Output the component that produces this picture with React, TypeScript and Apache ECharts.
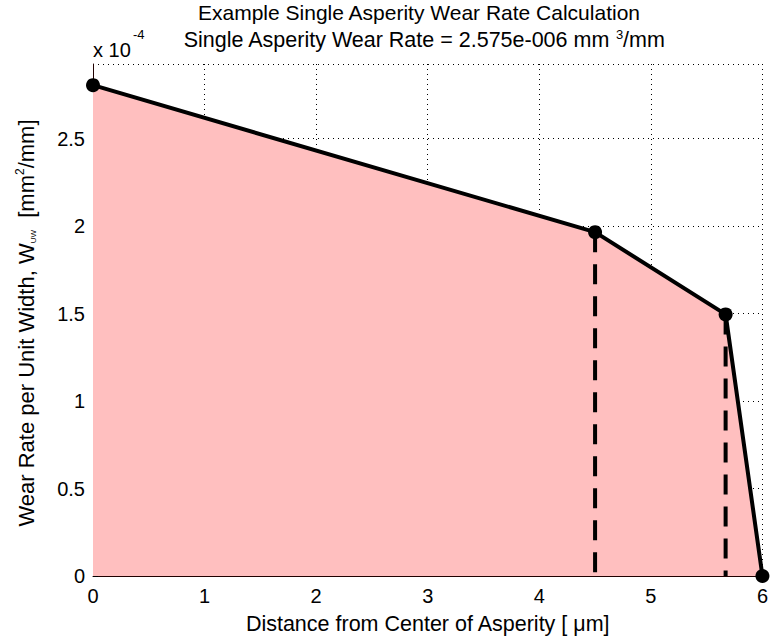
import React, { useEffect, useRef } from 'react';
import * as echarts from 'echarts';

// Data (wear rate in units of 1e-4 mm^2/mm)
const distance = [0, 4.5, 5.67, 6];
const wearRate = [2.805, 1.965, 1.495, 0];
const dashedIdx = [1, 2];
const xMin = 0;
const xMax = 6;
const yMin = 0;
const yMax = 2.926;
const yLabelMax = 2.5;

const FONT = '"Liberation Sans", Arial, Helvetica, sans-serif';

export default function App() {
  const ref = useRef<HTMLDivElement>(null);
  useEffect(() => {
    document.body.style.margin = '0';
    if (!ref.current) return;
    const chart = echarts.init(ref.current, null, { renderer: 'svg' });
    const mainData = distance.map((x, i) => [x, wearRate[i]]);
    const dashedSeries = dashedIdx.map((i) => ({
      type: 'line',
      data: [[distance[i], wearRate[i]], [distance[i], 0]],
      showSymbol: false,
      symbol: 'none',
      clip: false,
      lineStyle: { color: '#000', width: 4, type: [20, 12] },
      z: 5,
      silent: true,
    }));
    chart.setOption({
      animation: false,
      backgroundColor: '#fff',
      textStyle: { fontFamily: FONT },
      grid: { left: 93, right: 6, top: 64, bottom: 66, containLabel: false },
      xAxis: {
        type: 'value',
        min: xMin,
        max: xMax,
        interval: 1,
        name: 'Distance from Center of Asperity [ \u03bcm]',
        nameLocation: 'middle',
        nameGap: 37,
        nameTextStyle: { fontSize: 21.5, color: '#000', fontFamily: FONT },
        axisLine: { show: true, lineStyle: { color: '#200000', width: 1 } },
        axisTick: { show: true, inside: true, length: 5, lineStyle: { color: '#000' } },
        axisLabel: { fontSize: 20, color: '#000', margin: 10, fontFamily: FONT },
        splitLine: { show: true, showMaxLine: true, lineStyle: { color: '#000', width: 1, type: [1, 4] } },
      },
      yAxis: {
        type: 'value',
        min: yMin,
        max: yMax,
        interval: 0.5,
        axisLine: { show: true, lineStyle: { color: '#200000', width: 1 } },
        axisTick: { show: true, inside: true, length: 5, lineStyle: { color: '#000' } },
        axisLabel: {
          fontSize: 20,
          color: '#000',
          margin: 8,
          fontFamily: FONT,
          showMaxLabel: false,
          formatter: (v: number) => (v > yLabelMax + 1e-9 ? '' : String(v)),
        },
        splitLine: { show: true, showMaxLine: true, lineStyle: { color: '#000', width: 1, type: [1, 4] } },
      },
      graphic: [
        {
          type: 'text',
          x: 419,
          y: 12,
          style: {
            text: 'Example Single Asperity Wear Rate Calculation',
            fontSize: 21,
            fontFamily: FONT,
            fill: '#000',
            align: 'center',
            verticalAlign: 'middle',
          },
        },
        {
          type: 'text',
          x: 424,
          y: 40,
          style: {
            text: 'Single Asperity Wear Rate = 2.575e-006 mm {sup|3}/mm',
            fontSize: 21.5,
            fontFamily: FONT,
            fill: '#000',
            align: 'center',
            verticalAlign: 'middle',
            rich: {
              sup: { fontSize: 13, fontFamily: FONT, fill: '#000', padding: [0, 0, 12, 0] },
            },
          },
        },
        {
          type: 'text',
          x: 93,
          y: 50,
          style: {
            text: 'x 10',
            fontSize: 20,
            fontFamily: FONT,
            fill: '#000',
            align: 'left',
            verticalAlign: 'middle',
          },
        },
        {
          type: 'text',
          x: 133,
          y: 34,
          style: {
            text: '-4',
            fontSize: 13,
            fontFamily: FONT,
            fill: '#000',
            align: 'left',
            verticalAlign: 'middle',
          },
        },
        {
          type: 'text',
          x: 26,
          y: 323,
          rotation: Math.PI / 2,
          style: {
            text: 'Wear Rate per Unit Width, W{sub|UW}  [mm{sup|2}/mm]',
            fontSize: 22,
            fontFamily: FONT,
            fill: '#000',
            align: 'center',
            verticalAlign: 'middle',
            rich: {
              sub: { fontSize: 8, fontFamily: FONT, fill: '#000', padding: [14, 0, 0, 0] },
              sup: { fontSize: 12, fontFamily: FONT, fill: '#000', padding: [0, 0, 12, 0] },
            },
          },
        },
      ],
      series: [
        {
          type: 'line',
          data: mainData,
          clip: false,
          symbol: 'circle',
          symbolSize: 14,
          itemStyle: { color: '#000' },
          lineStyle: { color: '#000', width: 4 },
          areaStyle: { color: '#ffbfbf', opacity: 1, origin: 0 },
          z: 4,
        },
        ...dashedSeries,
      ],
    });
    return () => chart.dispose();
  }, []);
  return <div ref={ref} style={{ width: 771, height: 642 }} />;
}
